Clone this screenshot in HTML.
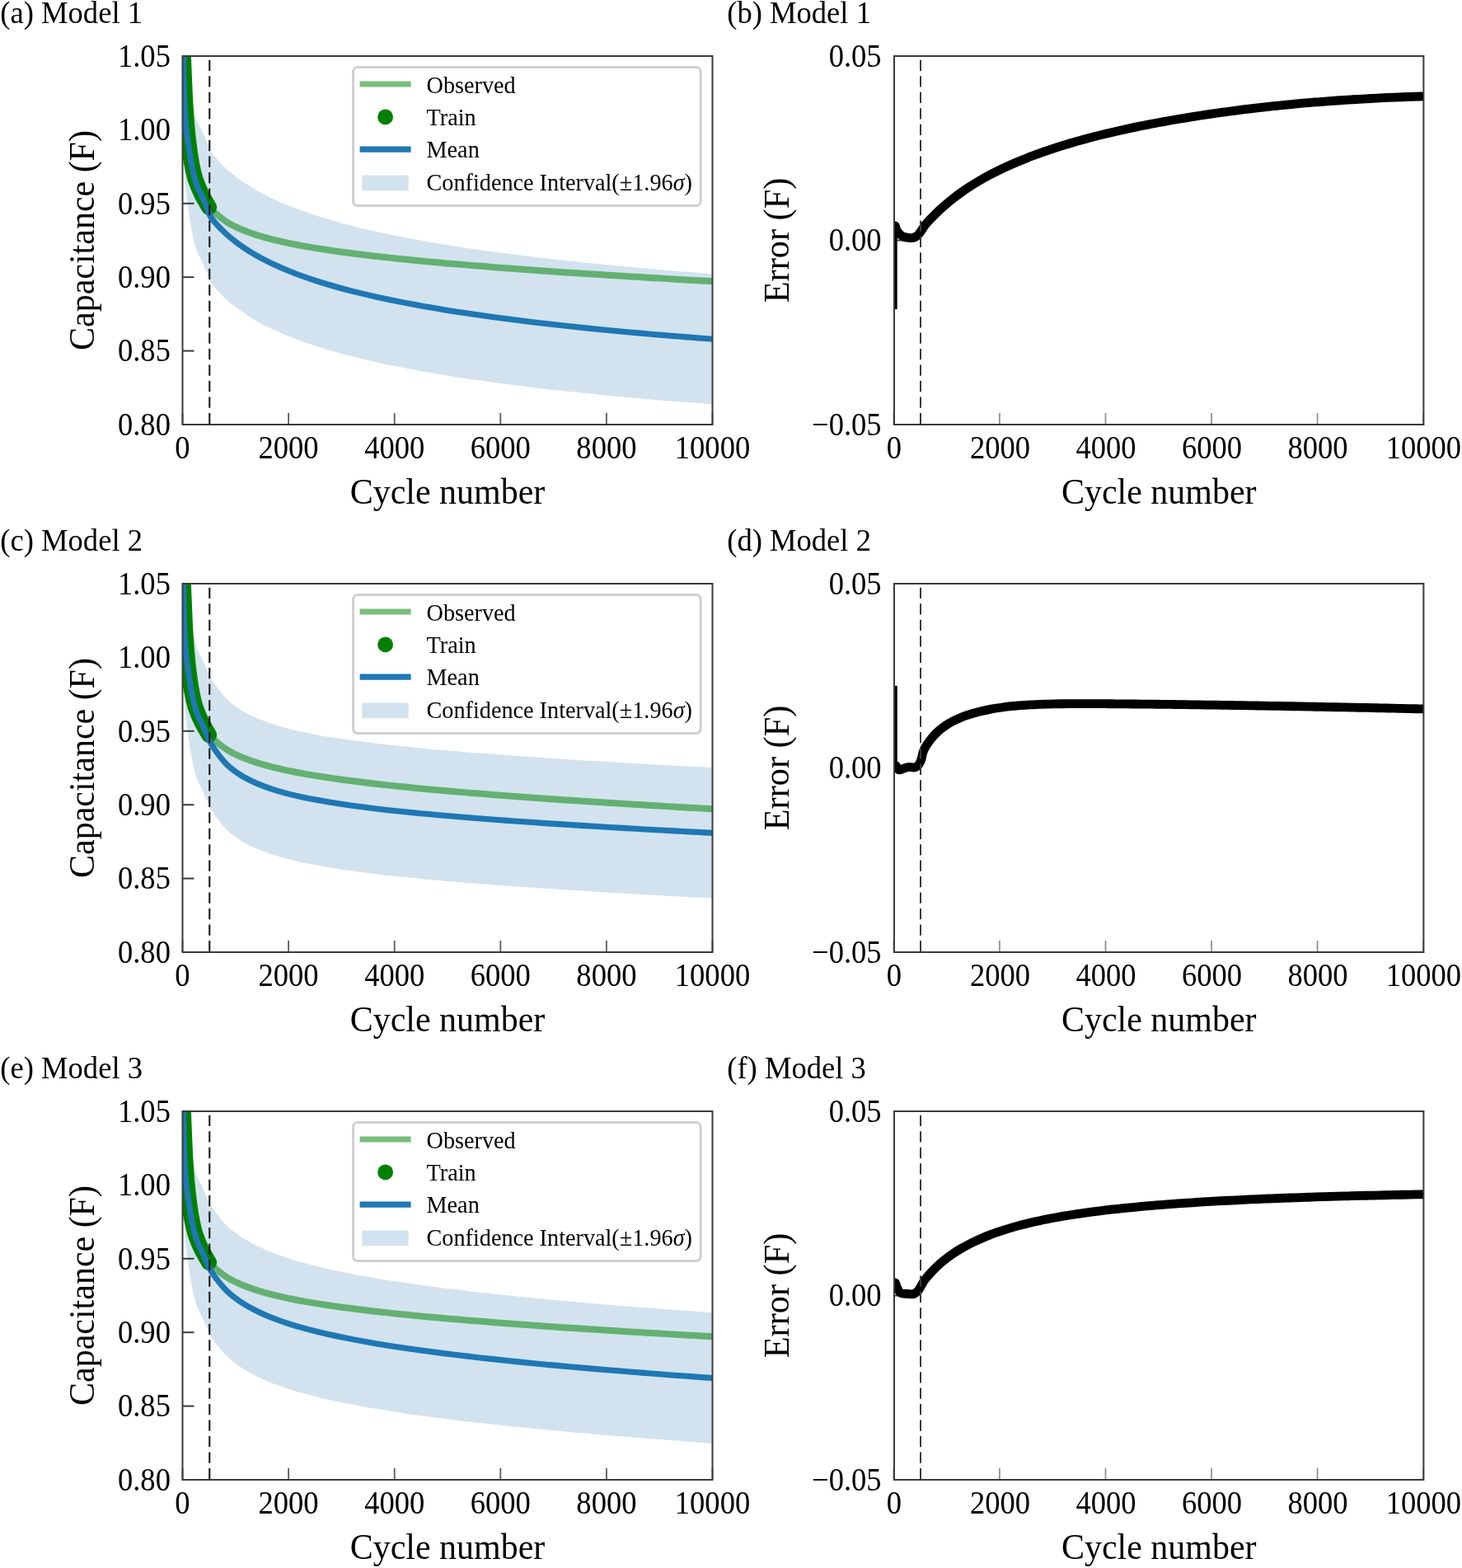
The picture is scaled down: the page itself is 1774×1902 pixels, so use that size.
<!DOCTYPE html>
<html><head><meta charset="utf-8"><title>Figure</title>
<style>html,body{margin:0;padding:0;background:#fff;} svg{display:block;}</style>
</head><body>
<svg xmlns="http://www.w3.org/2000/svg" width="1774" height="1902" viewBox="0 0 1774 1902" style="font-family:'Liberation Serif',serif;fill:#000">
<rect width="1774" height="1902" fill="#fff"/>
<clipPath id="cl0"><rect x="221.5" y="68.0" width="643.0" height="447.0"/></clipPath>
<clipPath id="cr0"><rect x="1085.0" y="68.0" width="642.4000000000001" height="447.0"/></clipPath>
<path clip-path="url(#cl0)" d="M221.80,-39.20C221.90,-34.53 222.15,-22.87 222.40,-11.20C222.65,0.47 223.00,19.85 223.30,30.80C223.60,41.75 223.74,46.62 224.20,54.50C224.66,62.38 225.16,70.22 226.05,78.10C226.94,85.98 228.47,94.68 229.55,101.80C230.63,108.92 231.01,113.52 232.55,120.80C234.09,128.08 236.64,139.02 238.80,145.50C240.96,151.98 243.32,154.88 245.50,159.70C247.68,164.52 250.07,170.17 251.90,174.40C253.73,178.63 253.14,180.45 256.50,185.11C259.86,189.76 266.89,197.28 272.09,202.34C277.29,207.40 282.48,211.51 287.68,215.47C292.88,219.43 298.07,222.83 303.27,226.09C308.47,229.34 313.66,232.23 318.86,234.99C324.06,237.74 329.25,240.25 334.45,242.64C339.65,245.03 344.84,247.24 350.04,249.35C355.24,251.46 360.43,253.43 365.63,255.32C370.82,257.21 376.02,258.98 381.22,260.69C386.41,262.39 391.61,264.01 396.81,265.56C402.00,267.12 407.20,268.60 412.40,270.03C417.59,271.46 422.79,272.82 427.99,274.14C433.18,275.46 438.38,276.72 443.58,277.95C448.77,279.18 453.97,280.35 459.17,281.50C464.36,282.64 469.56,283.74 474.76,284.82C479.95,285.89 485.15,286.92 490.35,287.93C495.54,288.94 500.74,289.91 505.94,290.86C511.13,291.81 516.33,292.74 521.53,293.63C526.72,294.53 531.92,295.41 537.12,296.26C542.31,297.11 547.51,297.94 552.71,298.75C557.90,299.56 563.10,300.35 568.29,301.12C573.49,301.89 578.69,302.64 583.88,303.38C589.08,304.12 594.28,304.84 599.47,305.54C604.67,306.25 609.87,306.93 615.06,307.61C620.26,308.28 625.46,308.94 630.65,309.59C635.85,310.23 641.05,310.87 646.24,311.49C651.44,312.11 656.64,312.72 661.83,313.32C667.03,313.91 672.23,314.50 677.42,315.07C682.62,315.65 687.82,316.21 693.01,316.77C698.21,317.32 703.41,317.87 708.60,318.40C713.80,318.94 719.00,319.46 724.19,319.98C729.39,320.50 734.59,321.00 739.78,321.51C744.98,322.01 750.18,322.50 755.37,322.98C760.57,323.46 765.76,323.94 770.96,324.41C776.16,324.88 781.35,325.34 786.55,325.79C791.75,326.25 796.94,326.69 802.14,327.14C807.34,327.58 812.53,328.01 817.73,328.44C822.93,328.87 828.12,329.29 833.32,329.70C838.52,330.12 843.71,330.53 848.91,330.93C854.11,331.34 861.90,331.93 864.50,332.13 L864.50,490.53C861.90,490.33 854.11,489.74 848.91,489.33C843.71,488.93 838.52,488.52 833.32,488.10C828.12,487.69 822.93,487.27 817.73,486.84C812.53,486.41 807.34,485.98 802.14,485.54C796.94,485.09 791.75,484.65 786.55,484.19C781.35,483.74 776.16,483.28 770.96,482.81C765.76,482.34 760.57,481.86 755.37,481.38C750.18,480.90 744.98,480.41 739.78,479.91C734.59,479.40 729.39,478.90 724.19,478.38C719.00,477.86 713.80,477.34 708.60,476.80C703.41,476.27 698.21,475.72 693.01,475.17C687.82,474.61 682.62,474.05 677.42,473.47C672.23,472.90 667.03,472.31 661.83,471.72C656.64,471.12 651.44,470.51 646.24,469.89C641.05,469.27 635.85,468.63 630.65,467.99C625.46,467.34 620.26,466.68 615.06,466.01C609.87,465.33 604.67,464.65 599.47,463.94C594.28,463.24 589.08,462.52 583.88,461.78C578.69,461.04 573.49,460.29 568.29,459.52C563.10,458.75 557.90,457.96 552.71,457.15C547.51,456.34 542.31,455.51 537.12,454.66C531.92,453.81 526.72,452.93 521.53,452.03C516.33,451.14 511.13,450.21 505.94,449.26C500.74,448.31 495.54,447.34 490.35,446.33C485.15,445.32 479.95,444.29 474.76,443.22C469.56,442.14 464.36,441.04 459.17,439.90C453.97,438.75 448.77,437.58 443.58,436.35C438.38,435.12 433.18,433.86 427.99,432.54C422.79,431.22 417.59,429.86 412.40,428.43C407.20,427.00 402.00,425.52 396.81,423.96C391.61,422.41 386.41,420.79 381.22,419.09C376.02,417.38 370.82,415.61 365.63,413.72C360.43,411.83 355.24,409.86 350.04,407.75C344.84,405.64 339.65,403.43 334.45,401.04C329.25,398.65 324.06,396.14 318.86,393.39C313.66,390.63 308.47,387.74 303.27,384.49C298.07,381.23 292.88,377.83 287.68,373.87C282.48,369.91 277.29,365.80 272.09,360.74C266.89,355.68 259.86,348.16 256.50,343.51C253.14,338.85 253.73,337.03 251.90,332.80C250.07,328.57 247.68,322.92 245.50,318.10C243.32,313.28 240.96,310.38 238.80,303.90C236.64,297.42 234.09,286.48 232.55,279.20C231.01,271.92 230.63,267.32 229.55,260.20C228.47,253.08 226.94,244.38 226.05,236.50C225.16,228.62 224.66,220.78 224.20,212.90C223.74,205.02 223.60,200.15 223.30,189.20C223.00,178.25 222.65,158.87 222.40,147.20C222.15,135.53 221.90,123.87 221.80,119.20 Z" fill="#d2e3ef"/>
<line x1="221.50" y1="515.0" x2="221.50" y2="501.0" stroke="#5a5a5a" stroke-width="1.8"/>
<line x1="350.10" y1="515.0" x2="350.10" y2="501.0" stroke="#5a5a5a" stroke-width="1.8"/>
<line x1="478.70" y1="515.0" x2="478.70" y2="501.0" stroke="#5a5a5a" stroke-width="1.8"/>
<line x1="607.30" y1="515.0" x2="607.30" y2="501.0" stroke="#5a5a5a" stroke-width="1.8"/>
<line x1="735.90" y1="515.0" x2="735.90" y2="501.0" stroke="#5a5a5a" stroke-width="1.8"/>
<line x1="864.50" y1="515.0" x2="864.50" y2="501.0" stroke="#5a5a5a" stroke-width="1.8"/>
<line x1="221.5" y1="515.00" x2="235.5" y2="515.00" stroke="#3a3a3a" stroke-width="2"/>
<line x1="221.5" y1="425.60" x2="235.5" y2="425.60" stroke="#3a3a3a" stroke-width="2"/>
<line x1="221.5" y1="336.20" x2="235.5" y2="336.20" stroke="#3a3a3a" stroke-width="2"/>
<line x1="221.5" y1="246.80" x2="235.5" y2="246.80" stroke="#3a3a3a" stroke-width="2"/>
<line x1="221.5" y1="157.40" x2="235.5" y2="157.40" stroke="#3a3a3a" stroke-width="2"/>
<line x1="221.5" y1="68.00" x2="235.5" y2="68.00" stroke="#3a3a3a" stroke-width="2"/>
<g clip-path="url(#cl0)">
<path d="M255.00,252.00C255.93,253.00 257.38,255.19 260.60,257.98C263.82,260.77 269.75,265.69 274.33,268.73C278.90,271.77 283.48,274.01 288.05,276.19C292.62,278.38 297.20,280.15 301.78,281.85C306.35,283.54 310.93,284.99 315.50,286.38C320.07,287.77 324.65,288.99 329.23,290.16C333.80,291.34 338.38,292.40 342.95,293.41C347.53,294.43 352.10,295.37 356.68,296.27C361.25,297.17 365.83,298.01 370.40,298.83C374.98,299.64 379.55,300.40 384.12,301.14C388.70,301.88 393.28,302.58 397.85,303.27C402.43,303.95 407.00,304.60 411.58,305.23C416.15,305.86 420.73,306.47 425.30,307.07C429.88,307.66 434.45,308.23 439.02,308.79C443.60,309.35 448.18,309.89 452.75,310.41C457.32,310.94 461.90,311.45 466.48,311.96C471.05,312.46 475.63,312.95 480.20,313.43C484.78,313.91 489.35,314.37 493.93,314.83C498.50,315.29 503.07,315.74 507.65,316.18C512.23,316.62 516.80,317.06 521.38,317.48C525.95,317.91 530.52,318.32 535.10,318.73C539.68,319.14 544.25,319.55 548.83,319.94C553.40,320.34 557.97,320.73 562.55,321.12C567.12,321.50 571.70,321.88 576.28,322.25C580.85,322.63 585.42,323.00 590.00,323.36C594.58,323.72 599.15,324.08 603.73,324.44C608.30,324.79 612.88,325.14 617.45,325.49C622.03,325.83 626.60,326.17 631.17,326.51C635.75,326.85 640.33,327.18 644.90,327.51C649.48,327.84 654.05,328.17 658.62,328.49C663.20,328.81 667.77,329.13 672.35,329.45C676.93,329.76 681.50,330.08 686.08,330.39C690.65,330.70 695.22,331.00 699.80,331.31C704.38,331.61 708.95,331.91 713.53,332.21C718.10,332.51 722.67,332.80 727.25,333.10C731.83,333.39 736.40,333.68 740.98,333.97C745.55,334.26 750.12,334.54 754.70,334.83C759.28,335.11 763.85,335.39 768.42,335.67C773.00,335.95 777.57,336.23 782.15,336.50C786.73,336.77 791.30,337.05 795.88,337.32C800.45,337.59 805.02,337.86 809.60,338.12C814.18,338.39 818.75,338.65 823.33,338.92C827.90,339.18 832.47,339.44 837.05,339.70C841.62,339.96 846.20,340.22 850.77,340.47C855.35,340.73 862.21,341.11 864.50,341.23" fill="none" stroke="rgba(0,128,0,0.52)" stroke-width="8"/>
<path d="M221.20,30.00C221.40,36.33 221.92,54.67 222.40,68.00C222.88,81.33 223.60,99.05 224.10,110.00C224.60,120.95 224.88,125.82 225.40,133.70C225.92,141.58 226.45,149.42 227.20,157.30C227.95,165.18 228.94,173.88 229.90,181.00C230.86,188.12 231.72,193.83 232.95,200.00C234.18,206.17 235.38,212.12 237.30,218.00C239.23,223.88 241.78,229.72 244.50,235.30C247.22,240.88 252.08,248.80 253.60,251.50" fill="none" stroke="#008000" stroke-width="19" stroke-linecap="round" stroke-linejoin="round"/>
<path d="M221.80,40.00C221.90,44.67 222.15,56.33 222.40,68.00C222.65,79.67 223.00,99.05 223.30,110.00C223.60,120.95 223.74,125.82 224.20,133.70C224.66,141.58 225.16,149.42 226.05,157.30C226.94,165.18 228.47,173.88 229.55,181.00C230.63,188.12 231.01,192.72 232.55,200.00C234.09,207.28 236.64,218.22 238.80,224.70C240.96,231.18 243.32,234.08 245.50,238.90C247.68,243.72 250.07,249.37 251.90,253.60C253.73,257.83 253.14,259.65 256.50,264.31C259.86,268.96 266.89,276.48 272.09,281.54C277.29,286.60 282.48,290.71 287.68,294.67C292.88,298.63 298.07,302.03 303.27,305.29C308.47,308.54 313.66,311.43 318.86,314.19C324.06,316.94 329.25,319.45 334.45,321.84C339.65,324.23 344.84,326.44 350.04,328.55C355.24,330.66 360.43,332.63 365.63,334.52C370.82,336.41 376.02,338.18 381.22,339.89C386.41,341.59 391.61,343.21 396.81,344.76C402.00,346.32 407.20,347.80 412.40,349.23C417.59,350.66 422.79,352.02 427.99,353.34C433.18,354.66 438.38,355.92 443.58,357.15C448.77,358.38 453.97,359.55 459.17,360.70C464.36,361.84 469.56,362.94 474.76,364.02C479.95,365.09 485.15,366.12 490.35,367.13C495.54,368.14 500.74,369.11 505.94,370.06C511.13,371.01 516.33,371.94 521.53,372.83C526.72,373.73 531.92,374.61 537.12,375.46C542.31,376.31 547.51,377.14 552.71,377.95C557.90,378.76 563.10,379.55 568.29,380.32C573.49,381.09 578.69,381.84 583.88,382.58C589.08,383.32 594.28,384.04 599.47,384.74C604.67,385.45 609.87,386.13 615.06,386.81C620.26,387.48 625.46,388.14 630.65,388.79C635.85,389.43 641.05,390.07 646.24,390.69C651.44,391.31 656.64,391.92 661.83,392.52C667.03,393.11 672.23,393.70 677.42,394.27C682.62,394.85 687.82,395.41 693.01,395.97C698.21,396.52 703.41,397.07 708.60,397.60C713.80,398.14 719.00,398.66 724.19,399.18C729.39,399.70 734.59,400.20 739.78,400.71C744.98,401.21 750.18,401.70 755.37,402.18C760.57,402.66 765.76,403.14 770.96,403.61C776.16,404.08 781.35,404.54 786.55,404.99C791.75,405.45 796.94,405.89 802.14,406.34C807.34,406.78 812.53,407.21 817.73,407.64C822.93,408.07 828.12,408.49 833.32,408.90C838.52,409.32 843.71,409.73 848.91,410.13C854.11,410.54 861.90,411.13 864.50,411.33" fill="none" stroke="#1f77b4" stroke-width="7.1"/>
<line x1="254.25" y1="68.0" x2="254.25" y2="515.0" stroke="#1a1a1a" stroke-width="2.1" stroke-dasharray="13.25 6.21" stroke-dashoffset="14.66"/>
</g>
<rect x="221.5" y="68.0" width="643.0" height="447.0" fill="none" stroke="#3a3a3a" stroke-width="2"/>
<rect x="428.5" y="81.6" width="421.7" height="168" rx="5.5" ry="5.5" fill="#fff" fill-opacity="0.8" stroke="#d0d0d0" stroke-width="3"/>
<line x1="436.6" y1="102" x2="498.6" y2="102" stroke="rgba(0,128,0,0.52)" stroke-width="6.8"/>
<circle cx="467.6" cy="141.9" r="9.4" fill="#008000"/>
<line x1="436.6" y1="181.1" x2="498.6" y2="181.1" stroke="#1f77b4" stroke-width="7.2"/>
<rect x="439.3" y="212.6" width="56.3" height="18.6" fill="#d2e3ef"/>
<text transform="translate(517.50,112.50) scale(0.957,1)" font-size="29.5" text-anchor="start">Observed</text>
<text transform="translate(517.50,151.50) scale(0.957,1)" font-size="29.5" text-anchor="start">Train</text>
<text transform="translate(517.50,190.60) scale(0.957,1)" font-size="29.5" text-anchor="start">Mean</text>
<text transform="translate(517.50,230.80) scale(0.957,1)" font-size="29.5" text-anchor="start">Confidence Interval(±1.96<tspan font-style="italic">σ</tspan>)</text>
<text transform="translate(221.50,555.70) scale(0.93,1)" font-size="39.3" text-anchor="middle">0</text>
<text transform="translate(350.10,555.70) scale(0.93,1)" font-size="39.3" text-anchor="middle">2000</text>
<text transform="translate(478.70,555.70) scale(0.93,1)" font-size="39.3" text-anchor="middle">4000</text>
<text transform="translate(607.30,555.70) scale(0.93,1)" font-size="39.3" text-anchor="middle">6000</text>
<text transform="translate(735.90,555.70) scale(0.93,1)" font-size="39.3" text-anchor="middle">8000</text>
<text transform="translate(864.50,555.70) scale(0.93,1)" font-size="39.3" text-anchor="middle">10000</text>
<text transform="translate(206.90,527.80) scale(0.93,1)" font-size="39.3" text-anchor="end">0.80</text>
<text transform="translate(206.90,438.40) scale(0.93,1)" font-size="39.3" text-anchor="end">0.85</text>
<text transform="translate(206.90,349.00) scale(0.93,1)" font-size="39.3" text-anchor="end">0.90</text>
<text transform="translate(206.90,259.60) scale(0.93,1)" font-size="39.3" text-anchor="end">0.95</text>
<text transform="translate(206.90,170.20) scale(0.93,1)" font-size="39.3" text-anchor="end">1.00</text>
<text transform="translate(206.90,80.80) scale(0.93,1)" font-size="39.3" text-anchor="end">1.05</text>
<text transform="translate(543.00,611.30) scale(0.937,1)" font-size="44.8" text-anchor="middle">Cycle number</text>
<text transform="translate(114.20,291.50) rotate(-90) scale(0.937,1)" font-size="44.8" text-anchor="middle">Capacitance (F)</text>
<text transform="translate(0.30,27.70) scale(0.958,1)" font-size="38.2" text-anchor="start">(a) Model 1</text>
<line x1="1084.40" y1="515.0" x2="1084.40" y2="501.0" stroke="#8a8a8a" stroke-width="1.7"/>
<line x1="1212.94" y1="515.0" x2="1212.94" y2="501.0" stroke="#8a8a8a" stroke-width="1.7"/>
<line x1="1341.48" y1="515.0" x2="1341.48" y2="501.0" stroke="#8a8a8a" stroke-width="1.7"/>
<line x1="1470.02" y1="515.0" x2="1470.02" y2="501.0" stroke="#8a8a8a" stroke-width="1.7"/>
<line x1="1598.56" y1="515.0" x2="1598.56" y2="501.0" stroke="#8a8a8a" stroke-width="1.7"/>
<line x1="1727.10" y1="515.0" x2="1727.10" y2="501.0" stroke="#8a8a8a" stroke-width="1.7"/>
<line x1="1085.0" y1="515.00" x2="1099.0" y2="515.00" stroke="#3a3a3a" stroke-width="2"/>
<line x1="1085.0" y1="291.50" x2="1099.0" y2="291.50" stroke="#3a3a3a" stroke-width="2"/>
<line x1="1085.0" y1="68.00" x2="1099.0" y2="68.00" stroke="#3a3a3a" stroke-width="2"/>
<g clip-path="url(#cr0)">
<line x1="1086.9" y1="276" x2="1086.9" y2="375.1" stroke="#000" stroke-width="3.6"/>
<path d="M1086.30,274.00C1086.67,275.00 1087.42,278.17 1088.50,280.00C1089.58,281.83 1091.38,283.78 1092.80,285.00C1094.22,286.22 1095.42,286.75 1097.00,287.30C1098.58,287.85 1100.70,288.10 1102.30,288.30C1103.90,288.50 1105.23,288.63 1106.60,288.50C1107.97,288.37 1109.27,288.08 1110.50,287.50C1111.73,286.92 1112.83,286.17 1114.00,285.00C1115.17,283.83 1116.03,282.56 1117.50,280.50C1118.97,278.44 1120.46,275.52 1122.80,272.63C1125.14,269.73 1128.64,266.15 1131.56,263.14C1134.48,260.13 1137.40,257.29 1140.32,254.56C1143.25,251.84 1146.17,249.26 1149.09,246.79C1152.01,244.31 1154.93,241.97 1157.85,239.71C1160.77,237.45 1163.69,235.30 1166.61,233.23C1169.53,231.16 1172.45,229.18 1175.37,227.27C1178.29,225.35 1181.22,223.52 1184.14,221.75C1187.06,219.97 1189.98,218.27 1192.90,216.62C1195.82,214.97 1198.74,213.38 1201.66,211.84C1204.58,210.29 1207.50,208.81 1210.42,207.36C1213.34,205.91 1216.26,204.52 1219.19,203.15C1222.11,201.79 1225.03,200.48 1227.95,199.19C1230.87,197.91 1233.79,196.66 1236.71,195.45C1239.63,194.24 1242.55,193.06 1245.47,191.91C1248.39,190.75 1251.31,189.64 1254.23,188.54C1257.16,187.45 1260.08,186.39 1263.00,185.35C1265.92,184.30 1268.84,183.29 1271.76,182.30C1274.68,181.31 1277.60,180.34 1280.52,179.39C1283.44,178.44 1286.36,177.52 1289.28,176.61C1292.20,175.71 1295.13,174.82 1298.05,173.96C1300.97,173.09 1303.89,172.24 1306.81,171.41C1309.73,170.58 1312.65,169.77 1315.57,168.97C1318.49,168.18 1321.41,167.40 1324.33,166.63C1327.25,165.87 1330.17,165.12 1333.10,164.39C1336.02,163.65 1338.94,162.93 1341.86,162.23C1344.78,161.52 1347.70,160.83 1350.62,160.15C1353.54,159.47 1356.46,158.81 1359.38,158.15C1362.30,157.50 1365.22,156.86 1368.14,156.23C1371.07,155.60 1373.99,154.98 1376.91,154.37C1379.83,153.76 1382.75,153.17 1385.67,152.58C1388.59,152.00 1391.51,151.42 1394.43,150.85C1397.35,150.29 1400.27,149.73 1403.19,149.19C1406.11,148.64 1409.04,148.10 1411.96,147.57C1414.88,147.05 1417.80,146.53 1420.72,146.02C1423.64,145.51 1426.56,145.00 1429.48,144.51C1432.40,144.02 1435.32,143.53 1438.24,143.05C1441.16,142.58 1444.09,142.11 1447.01,141.64C1449.93,141.18 1452.85,140.72 1455.77,140.28C1458.69,139.83 1461.61,139.39 1464.53,138.95C1467.45,138.52 1470.37,138.09 1473.29,137.67C1476.21,137.25 1479.13,136.84 1482.06,136.43C1484.98,136.03 1487.90,135.63 1490.82,135.23C1493.74,134.84 1496.66,134.46 1499.58,134.08C1502.50,133.70 1505.42,133.33 1508.34,132.97C1511.26,132.60 1514.18,132.24 1517.10,131.89C1520.03,131.54 1522.95,131.20 1525.87,130.86C1528.79,130.52 1531.71,130.19 1534.63,129.87C1537.55,129.54 1540.47,129.22 1543.39,128.91C1546.31,128.60 1549.23,128.30 1552.15,128.00C1555.07,127.70 1558.00,127.41 1560.92,127.12C1563.84,126.84 1566.76,126.56 1569.68,126.28C1572.60,126.01 1575.52,125.74 1578.44,125.48C1581.36,125.22 1584.28,124.96 1587.20,124.71C1590.12,124.46 1593.04,124.22 1595.97,123.98C1598.89,123.75 1601.81,123.51 1604.73,123.29C1607.65,123.06 1610.57,122.84 1613.49,122.63C1616.41,122.41 1619.33,122.20 1622.25,122.00C1625.17,121.79 1628.09,121.59 1631.01,121.40C1633.94,121.21 1636.86,121.02 1639.78,120.84C1642.70,120.66 1645.62,120.48 1648.54,120.31C1651.46,120.13 1654.38,119.97 1657.30,119.81C1660.22,119.64 1663.14,119.49 1666.06,119.33C1668.98,119.18 1671.91,119.04 1674.83,118.89C1677.75,118.75 1680.67,118.61 1683.59,118.48C1686.51,118.35 1689.43,118.22 1692.35,118.10C1695.27,117.97 1698.19,117.86 1701.11,117.74C1704.03,117.63 1706.95,117.52 1709.88,117.41C1712.80,117.31 1715.72,117.21 1718.64,117.11C1721.56,117.02 1725.94,116.88 1727.40,116.84" fill="none" stroke="#000" stroke-width="10.8" stroke-linejoin="round" stroke-linecap="round"/>
<line x1="1117" y1="68.0" x2="1117" y2="515.0" stroke="#3a3a3a" stroke-width="2" stroke-dasharray="13.25 6.21" stroke-dashoffset="14.66"/>
</g>
<rect x="1085.0" y="68.0" width="642.4000000000001" height="447.0" fill="none" stroke="#3a3a3a" stroke-width="2"/>
<text transform="translate(1085.00,555.70) scale(0.93,1)" font-size="39.3" text-anchor="middle">0</text>
<text transform="translate(1213.48,555.70) scale(0.93,1)" font-size="39.3" text-anchor="middle">2000</text>
<text transform="translate(1341.96,555.70) scale(0.93,1)" font-size="39.3" text-anchor="middle">4000</text>
<text transform="translate(1470.44,555.70) scale(0.93,1)" font-size="39.3" text-anchor="middle">6000</text>
<text transform="translate(1598.92,555.70) scale(0.93,1)" font-size="39.3" text-anchor="middle">8000</text>
<text transform="translate(1727.40,555.70) scale(0.93,1)" font-size="39.3" text-anchor="middle">10000</text>
<text transform="translate(1069.60,527.80) scale(0.93,1)" font-size="39.3" text-anchor="end">−0.05</text>
<text transform="translate(1069.60,304.30) scale(0.93,1)" font-size="39.3" text-anchor="end">0.00</text>
<text transform="translate(1069.60,80.80) scale(0.93,1)" font-size="39.3" text-anchor="end">0.05</text>
<text transform="translate(1406.20,611.30) scale(0.937,1)" font-size="44.8" text-anchor="middle">Cycle number</text>
<text transform="translate(956.80,291.50) rotate(-90) scale(0.945,1)" font-size="44.8" text-anchor="middle">Error (F)</text>
<text transform="translate(882.20,27.70) scale(0.958,1)" font-size="38.2" text-anchor="start">(b) Model 1</text>
<clipPath id="cl1"><rect x="221.5" y="708.0" width="643.0" height="447.0"/></clipPath>
<clipPath id="cr1"><rect x="1085.0" y="708.0" width="642.4000000000001" height="447.0"/></clipPath>
<path clip-path="url(#cl1)" d="M221.80,600.80C221.90,605.47 222.15,617.13 222.40,628.80C222.65,640.47 223.00,659.85 223.30,670.80C223.60,681.75 223.74,686.62 224.20,694.50C224.66,702.38 225.16,710.22 226.05,718.10C226.94,725.98 228.47,734.68 229.55,741.80C230.63,748.92 231.01,753.52 232.55,760.80C234.09,768.08 236.64,779.02 238.80,785.50C240.96,791.98 243.32,794.88 245.50,799.70C247.68,804.52 249.77,809.92 251.90,814.40C254.03,818.88 254.64,821.19 258.30,826.58C261.96,831.98 268.66,841.32 273.84,846.78C279.02,852.24 284.21,855.78 289.39,859.34C294.57,862.89 299.75,865.55 304.93,868.10C310.11,870.66 315.29,872.73 320.47,874.69C325.66,876.66 330.84,878.32 336.02,879.90C341.20,881.48 346.38,882.86 351.56,884.17C356.74,885.49 361.92,886.66 367.11,887.78C372.29,888.90 377.47,889.92 382.65,890.90C387.83,891.88 393.01,892.78 398.19,893.65C403.37,894.51 408.55,895.32 413.74,896.10C418.92,896.88 424.10,897.61 429.28,898.32C434.46,899.03 439.64,899.70 444.82,900.36C450.00,901.01 455.19,901.63 460.37,902.24C465.55,902.84 470.73,903.42 475.91,903.98C481.09,904.55 486.27,905.09 491.45,905.62C496.64,906.15 501.82,906.66 507.00,907.17C512.18,907.67 517.36,908.15 522.54,908.63C527.72,909.11 532.90,909.57 538.08,910.02C543.27,910.48 548.45,910.92 553.63,911.35C558.81,911.79 563.99,912.21 569.17,912.63C574.35,913.05 579.53,913.45 584.72,913.86C589.90,914.26 595.08,914.65 600.26,915.04C605.44,915.43 610.62,915.81 615.80,916.18C620.98,916.56 626.16,916.93 631.35,917.29C636.53,917.66 641.71,918.02 646.89,918.37C652.07,918.72 657.25,919.07 662.43,919.42C667.61,919.76 672.80,920.10 677.98,920.44C683.16,920.78 688.34,921.11 693.52,921.44C698.70,921.76 703.88,922.09 709.06,922.41C714.25,922.73 719.43,923.05 724.61,923.36C729.79,923.68 734.97,923.99 740.15,924.29C745.33,924.60 750.51,924.91 755.69,925.21C760.88,925.51 766.06,925.81 771.24,926.11C776.42,926.40 781.60,926.70 786.78,926.99C791.96,927.28 797.14,927.57 802.33,927.86C807.51,928.14 812.69,928.43 817.87,928.71C823.05,928.99 828.23,929.27 833.41,929.55C838.59,929.83 843.78,930.10 848.96,930.37C854.14,930.65 861.91,931.05 864.50,931.19 L864.50,1089.59C861.91,1089.45 854.14,1089.05 848.96,1088.77C843.78,1088.50 838.59,1088.23 833.41,1087.95C828.23,1087.67 823.05,1087.39 817.87,1087.11C812.69,1086.83 807.51,1086.54 802.33,1086.26C797.14,1085.97 791.96,1085.68 786.78,1085.39C781.60,1085.10 776.42,1084.80 771.24,1084.51C766.06,1084.21 760.88,1083.91 755.69,1083.61C750.51,1083.31 745.33,1083.00 740.15,1082.69C734.97,1082.39 729.79,1082.08 724.61,1081.76C719.43,1081.45 714.25,1081.13 709.06,1080.81C703.88,1080.49 698.70,1080.16 693.52,1079.84C688.34,1079.51 683.16,1079.18 677.98,1078.84C672.80,1078.50 667.61,1078.16 662.43,1077.82C657.25,1077.47 652.07,1077.12 646.89,1076.77C641.71,1076.42 636.53,1076.06 631.35,1075.69C626.16,1075.33 620.98,1074.96 615.80,1074.58C610.62,1074.21 605.44,1073.83 600.26,1073.44C595.08,1073.05 589.90,1072.66 584.72,1072.26C579.53,1071.85 574.35,1071.45 569.17,1071.03C563.99,1070.61 558.81,1070.19 553.63,1069.75C548.45,1069.32 543.27,1068.88 538.08,1068.42C532.90,1067.97 527.72,1067.51 522.54,1067.03C517.36,1066.55 512.18,1066.07 507.00,1065.57C501.82,1065.06 496.64,1064.55 491.45,1064.02C486.27,1063.49 481.09,1062.95 475.91,1062.38C470.73,1061.82 465.55,1061.24 460.37,1060.64C455.19,1060.03 450.00,1059.41 444.82,1058.76C439.64,1058.10 434.46,1057.43 429.28,1056.72C424.10,1056.01 418.92,1055.28 413.74,1054.50C408.55,1053.72 403.37,1052.91 398.19,1052.05C393.01,1051.18 387.83,1050.28 382.65,1049.30C377.47,1048.32 372.29,1047.30 367.11,1046.18C361.92,1045.06 356.74,1043.89 351.56,1042.57C346.38,1041.26 341.20,1039.88 336.02,1038.30C330.84,1036.72 325.66,1035.06 320.47,1033.09C315.29,1031.13 310.11,1029.06 304.93,1026.50C299.75,1023.95 294.57,1021.29 289.39,1017.74C284.21,1014.18 279.02,1010.64 273.84,1005.18C268.66,999.72 261.96,990.38 258.30,984.98C254.64,979.59 254.03,977.28 251.90,972.80C249.77,968.32 247.68,962.92 245.50,958.10C243.32,953.28 240.96,950.38 238.80,943.90C236.64,937.42 234.09,926.48 232.55,919.20C231.01,911.92 230.63,907.32 229.55,900.20C228.47,893.08 226.94,884.38 226.05,876.50C225.16,868.62 224.66,860.78 224.20,852.90C223.74,845.02 223.60,840.15 223.30,829.20C223.00,818.25 222.65,798.87 222.40,787.20C222.15,775.53 221.90,763.87 221.80,759.20 Z" fill="#d2e3ef"/>
<line x1="221.50" y1="1155.0" x2="221.50" y2="1141.0" stroke="#5a5a5a" stroke-width="1.8"/>
<line x1="350.10" y1="1155.0" x2="350.10" y2="1141.0" stroke="#5a5a5a" stroke-width="1.8"/>
<line x1="478.70" y1="1155.0" x2="478.70" y2="1141.0" stroke="#5a5a5a" stroke-width="1.8"/>
<line x1="607.30" y1="1155.0" x2="607.30" y2="1141.0" stroke="#5a5a5a" stroke-width="1.8"/>
<line x1="735.90" y1="1155.0" x2="735.90" y2="1141.0" stroke="#5a5a5a" stroke-width="1.8"/>
<line x1="864.50" y1="1155.0" x2="864.50" y2="1141.0" stroke="#5a5a5a" stroke-width="1.8"/>
<line x1="221.5" y1="1155.00" x2="235.5" y2="1155.00" stroke="#3a3a3a" stroke-width="2"/>
<line x1="221.5" y1="1065.60" x2="235.5" y2="1065.60" stroke="#3a3a3a" stroke-width="2"/>
<line x1="221.5" y1="976.20" x2="235.5" y2="976.20" stroke="#3a3a3a" stroke-width="2"/>
<line x1="221.5" y1="886.80" x2="235.5" y2="886.80" stroke="#3a3a3a" stroke-width="2"/>
<line x1="221.5" y1="797.40" x2="235.5" y2="797.40" stroke="#3a3a3a" stroke-width="2"/>
<line x1="221.5" y1="708.00" x2="235.5" y2="708.00" stroke="#3a3a3a" stroke-width="2"/>
<g clip-path="url(#cl1)">
<path d="M255.00,892.00C255.93,893.00 257.38,895.19 260.60,897.98C263.82,900.77 269.75,905.69 274.33,908.73C278.90,911.77 283.48,914.01 288.05,916.19C292.62,918.38 297.20,920.15 301.78,921.85C306.35,923.54 310.93,924.99 315.50,926.38C320.07,927.77 324.65,928.99 329.23,930.16C333.80,931.34 338.38,932.40 342.95,933.41C347.53,934.43 352.10,935.37 356.68,936.27C361.25,937.17 365.83,938.01 370.40,938.83C374.98,939.64 379.55,940.40 384.12,941.14C388.70,941.88 393.28,942.58 397.85,943.27C402.43,943.95 407.00,944.60 411.58,945.23C416.15,945.86 420.73,946.47 425.30,947.07C429.88,947.66 434.45,948.23 439.02,948.79C443.60,949.35 448.18,949.89 452.75,950.41C457.32,950.94 461.90,951.45 466.48,951.96C471.05,952.46 475.63,952.95 480.20,953.43C484.78,953.91 489.35,954.37 493.93,954.83C498.50,955.29 503.07,955.74 507.65,956.18C512.23,956.62 516.80,957.06 521.38,957.48C525.95,957.91 530.52,958.32 535.10,958.73C539.68,959.14 544.25,959.55 548.83,959.94C553.40,960.34 557.97,960.73 562.55,961.12C567.12,961.50 571.70,961.88 576.28,962.25C580.85,962.63 585.42,963.00 590.00,963.36C594.58,963.72 599.15,964.08 603.73,964.44C608.30,964.79 612.88,965.14 617.45,965.49C622.03,965.83 626.60,966.17 631.17,966.51C635.75,966.85 640.33,967.18 644.90,967.51C649.48,967.84 654.05,968.17 658.62,968.49C663.20,968.81 667.77,969.13 672.35,969.45C676.93,969.76 681.50,970.08 686.08,970.39C690.65,970.70 695.22,971.00 699.80,971.31C704.38,971.61 708.95,971.91 713.53,972.21C718.10,972.51 722.67,972.80 727.25,973.10C731.83,973.39 736.40,973.68 740.98,973.97C745.55,974.26 750.12,974.54 754.70,974.83C759.28,975.11 763.85,975.39 768.42,975.67C773.00,975.95 777.57,976.23 782.15,976.50C786.73,976.77 791.30,977.05 795.88,977.32C800.45,977.59 805.02,977.86 809.60,978.12C814.18,978.39 818.75,978.65 823.33,978.92C827.90,979.18 832.47,979.44 837.05,979.70C841.62,979.96 846.20,980.22 850.77,980.47C855.35,980.73 862.21,981.11 864.50,981.23" fill="none" stroke="rgba(0,128,0,0.52)" stroke-width="8"/>
<path d="M221.20,670.00C221.40,676.33 221.92,694.67 222.40,708.00C222.88,721.33 223.60,739.05 224.10,750.00C224.60,760.95 224.88,765.82 225.40,773.70C225.92,781.58 226.45,789.42 227.20,797.30C227.95,805.18 228.94,813.88 229.90,821.00C230.86,828.12 231.72,833.83 232.95,840.00C234.18,846.17 235.38,852.12 237.30,858.00C239.23,863.88 241.78,869.72 244.50,875.30C247.22,880.88 252.08,888.80 253.60,891.50" fill="none" stroke="#008000" stroke-width="19" stroke-linecap="round" stroke-linejoin="round"/>
<path d="M221.80,680.00C221.90,684.67 222.15,696.33 222.40,708.00C222.65,719.67 223.00,739.05 223.30,750.00C223.60,760.95 223.74,765.82 224.20,773.70C224.66,781.58 225.16,789.42 226.05,797.30C226.94,805.18 228.47,813.88 229.55,821.00C230.63,828.12 231.01,832.72 232.55,840.00C234.09,847.28 236.64,858.22 238.80,864.70C240.96,871.18 243.32,874.08 245.50,878.90C247.68,883.72 249.77,889.12 251.90,893.60C254.03,898.08 254.64,900.39 258.30,905.78C261.96,911.18 268.66,920.52 273.84,925.98C279.02,931.44 284.21,934.98 289.39,938.54C294.57,942.09 299.75,944.75 304.93,947.30C310.11,949.86 315.29,951.93 320.47,953.89C325.66,955.86 330.84,957.52 336.02,959.10C341.20,960.68 346.38,962.06 351.56,963.37C356.74,964.69 361.92,965.86 367.11,966.98C372.29,968.10 377.47,969.12 382.65,970.10C387.83,971.08 393.01,971.98 398.19,972.85C403.37,973.71 408.55,974.52 413.74,975.30C418.92,976.08 424.10,976.81 429.28,977.52C434.46,978.23 439.64,978.90 444.82,979.56C450.00,980.21 455.19,980.83 460.37,981.44C465.55,982.04 470.73,982.62 475.91,983.18C481.09,983.75 486.27,984.29 491.45,984.82C496.64,985.35 501.82,985.86 507.00,986.37C512.18,986.87 517.36,987.35 522.54,987.83C527.72,988.31 532.90,988.77 538.08,989.22C543.27,989.68 548.45,990.12 553.63,990.55C558.81,990.99 563.99,991.41 569.17,991.83C574.35,992.25 579.53,992.65 584.72,993.06C589.90,993.46 595.08,993.85 600.26,994.24C605.44,994.63 610.62,995.01 615.80,995.38C620.98,995.76 626.16,996.13 631.35,996.49C636.53,996.86 641.71,997.22 646.89,997.57C652.07,997.92 657.25,998.27 662.43,998.62C667.61,998.96 672.80,999.30 677.98,999.64C683.16,999.98 688.34,1000.31 693.52,1000.64C698.70,1000.96 703.88,1001.29 709.06,1001.61C714.25,1001.93 719.43,1002.25 724.61,1002.56C729.79,1002.88 734.97,1003.19 740.15,1003.49C745.33,1003.80 750.51,1004.11 755.69,1004.41C760.88,1004.71 766.06,1005.01 771.24,1005.31C776.42,1005.60 781.60,1005.90 786.78,1006.19C791.96,1006.48 797.14,1006.77 802.33,1007.06C807.51,1007.34 812.69,1007.63 817.87,1007.91C823.05,1008.19 828.23,1008.47 833.41,1008.75C838.59,1009.03 843.78,1009.30 848.96,1009.57C854.14,1009.85 861.91,1010.25 864.50,1010.39" fill="none" stroke="#1f77b4" stroke-width="7.1"/>
<line x1="254.25" y1="708.0" x2="254.25" y2="1155.0" stroke="#1a1a1a" stroke-width="2.1" stroke-dasharray="13.25 6.21" stroke-dashoffset="14.66"/>
</g>
<rect x="221.5" y="708.0" width="643.0" height="447.0" fill="none" stroke="#3a3a3a" stroke-width="2"/>
<rect x="428.5" y="721.6" width="421.7" height="168" rx="5.5" ry="5.5" fill="#fff" fill-opacity="0.8" stroke="#d0d0d0" stroke-width="3"/>
<line x1="436.6" y1="742" x2="498.6" y2="742" stroke="rgba(0,128,0,0.52)" stroke-width="6.8"/>
<circle cx="467.6" cy="781.9" r="9.4" fill="#008000"/>
<line x1="436.6" y1="821.1" x2="498.6" y2="821.1" stroke="#1f77b4" stroke-width="7.2"/>
<rect x="439.3" y="852.6" width="56.3" height="18.6" fill="#d2e3ef"/>
<text transform="translate(517.50,752.50) scale(0.957,1)" font-size="29.5" text-anchor="start">Observed</text>
<text transform="translate(517.50,791.50) scale(0.957,1)" font-size="29.5" text-anchor="start">Train</text>
<text transform="translate(517.50,830.60) scale(0.957,1)" font-size="29.5" text-anchor="start">Mean</text>
<text transform="translate(517.50,870.80) scale(0.957,1)" font-size="29.5" text-anchor="start">Confidence Interval(±1.96<tspan font-style="italic">σ</tspan>)</text>
<text transform="translate(221.50,1195.70) scale(0.93,1)" font-size="39.3" text-anchor="middle">0</text>
<text transform="translate(350.10,1195.70) scale(0.93,1)" font-size="39.3" text-anchor="middle">2000</text>
<text transform="translate(478.70,1195.70) scale(0.93,1)" font-size="39.3" text-anchor="middle">4000</text>
<text transform="translate(607.30,1195.70) scale(0.93,1)" font-size="39.3" text-anchor="middle">6000</text>
<text transform="translate(735.90,1195.70) scale(0.93,1)" font-size="39.3" text-anchor="middle">8000</text>
<text transform="translate(864.50,1195.70) scale(0.93,1)" font-size="39.3" text-anchor="middle">10000</text>
<text transform="translate(206.90,1167.80) scale(0.93,1)" font-size="39.3" text-anchor="end">0.80</text>
<text transform="translate(206.90,1078.40) scale(0.93,1)" font-size="39.3" text-anchor="end">0.85</text>
<text transform="translate(206.90,989.00) scale(0.93,1)" font-size="39.3" text-anchor="end">0.90</text>
<text transform="translate(206.90,899.60) scale(0.93,1)" font-size="39.3" text-anchor="end">0.95</text>
<text transform="translate(206.90,810.20) scale(0.93,1)" font-size="39.3" text-anchor="end">1.00</text>
<text transform="translate(206.90,720.80) scale(0.93,1)" font-size="39.3" text-anchor="end">1.05</text>
<text transform="translate(543.00,1251.30) scale(0.937,1)" font-size="44.8" text-anchor="middle">Cycle number</text>
<text transform="translate(114.20,931.50) rotate(-90) scale(0.937,1)" font-size="44.8" text-anchor="middle">Capacitance (F)</text>
<text transform="translate(0.30,667.70) scale(0.958,1)" font-size="38.2" text-anchor="start">(c) Model 2</text>
<line x1="1084.40" y1="1155.0" x2="1084.40" y2="1141.0" stroke="#8a8a8a" stroke-width="1.7"/>
<line x1="1212.94" y1="1155.0" x2="1212.94" y2="1141.0" stroke="#8a8a8a" stroke-width="1.7"/>
<line x1="1341.48" y1="1155.0" x2="1341.48" y2="1141.0" stroke="#8a8a8a" stroke-width="1.7"/>
<line x1="1470.02" y1="1155.0" x2="1470.02" y2="1141.0" stroke="#8a8a8a" stroke-width="1.7"/>
<line x1="1598.56" y1="1155.0" x2="1598.56" y2="1141.0" stroke="#8a8a8a" stroke-width="1.7"/>
<line x1="1727.10" y1="1155.0" x2="1727.10" y2="1141.0" stroke="#8a8a8a" stroke-width="1.7"/>
<line x1="1085.0" y1="1155.00" x2="1099.0" y2="1155.00" stroke="#3a3a3a" stroke-width="2"/>
<line x1="1085.0" y1="931.50" x2="1099.0" y2="931.50" stroke="#3a3a3a" stroke-width="2"/>
<line x1="1085.0" y1="708.00" x2="1099.0" y2="708.00" stroke="#3a3a3a" stroke-width="2"/>
<g clip-path="url(#cr1)">
<line x1="1086.9" y1="831.8" x2="1086.9" y2="928" stroke="#000" stroke-width="3.8"/>
<path d="M1087.40,929.00C1087.75,929.67 1088.75,932.18 1089.50,933.00C1090.25,933.82 1090.57,934.10 1091.90,933.90C1093.23,933.70 1095.62,932.40 1097.50,931.80C1099.38,931.20 1101.32,930.43 1103.20,930.30C1105.08,930.17 1107.17,931.13 1108.80,931.00C1110.43,930.87 1111.88,930.25 1113.00,929.50C1114.12,928.75 1114.70,927.83 1115.50,926.50C1116.30,925.17 1116.85,924.35 1117.80,921.50C1118.75,918.65 1119.17,913.66 1121.20,909.41C1123.23,905.16 1127.06,899.78 1129.99,896.01C1132.91,892.23 1135.84,889.42 1138.77,886.75C1141.70,884.08 1144.63,881.97 1147.56,879.98C1150.49,878.00 1153.41,876.36 1156.34,874.83C1159.27,873.29 1162.20,871.99 1165.13,870.77C1168.06,869.54 1170.98,868.48 1173.91,867.48C1176.84,866.48 1179.77,865.59 1182.70,864.76C1185.63,863.92 1188.56,863.18 1191.48,862.49C1194.41,861.80 1197.34,861.18 1200.27,860.60C1203.20,860.03 1206.13,859.52 1209.06,859.04C1211.98,858.57 1214.91,858.15 1217.84,857.76C1220.77,857.38 1223.70,857.04 1226.63,856.73C1229.55,856.42 1232.48,856.15 1235.41,855.91C1238.34,855.66 1241.27,855.45 1244.20,855.27C1247.13,855.08 1250.05,854.91 1252.98,854.77C1255.91,854.62 1258.84,854.50 1261.77,854.39C1264.70,854.28 1267.63,854.19 1270.55,854.11C1273.48,854.03 1276.41,853.96 1279.34,853.90C1282.27,853.85 1285.20,853.80 1288.12,853.76C1291.05,853.72 1293.98,853.69 1296.91,853.67C1299.84,853.65 1302.77,853.63 1305.70,853.62C1308.62,853.61 1311.55,853.61 1314.48,853.61C1317.41,853.61 1320.34,853.61 1323.27,853.62C1326.20,853.62 1329.12,853.64 1332.05,853.65C1334.98,853.66 1337.91,853.68 1340.84,853.70C1343.77,853.72 1346.69,853.74 1349.62,853.76C1352.55,853.78 1355.48,853.80 1358.41,853.83C1361.34,853.85 1364.27,853.88 1367.19,853.90C1370.12,853.93 1373.05,853.96 1375.98,853.99C1378.91,854.01 1381.84,854.04 1384.77,854.07C1387.69,854.10 1390.62,854.13 1393.55,854.16C1396.48,854.19 1399.41,854.23 1402.34,854.26C1405.26,854.29 1408.19,854.32 1411.12,854.36C1414.05,854.39 1416.98,854.42 1419.91,854.46C1422.84,854.49 1425.76,854.53 1428.69,854.57C1431.62,854.60 1434.55,854.64 1437.48,854.68C1440.41,854.71 1443.34,854.75 1446.26,854.79C1449.19,854.83 1452.12,854.87 1455.05,854.91C1457.98,854.95 1460.91,854.99 1463.83,855.03C1466.76,855.07 1469.69,855.12 1472.62,855.16C1475.55,855.20 1478.48,855.24 1481.41,855.29C1484.33,855.33 1487.26,855.37 1490.19,855.42C1493.12,855.46 1496.05,855.51 1498.98,855.56C1501.91,855.60 1504.83,855.65 1507.76,855.69C1510.69,855.74 1513.62,855.79 1516.55,855.84C1519.48,855.88 1522.40,855.93 1525.33,855.98C1528.26,856.03 1531.19,856.08 1534.12,856.13C1537.05,856.18 1539.98,856.23 1542.90,856.28C1545.83,856.33 1548.76,856.38 1551.69,856.43C1554.62,856.49 1557.55,856.54 1560.48,856.59C1563.40,856.64 1566.33,856.70 1569.26,856.75C1572.19,856.80 1575.12,856.86 1578.05,856.91C1580.97,856.96 1583.90,857.02 1586.83,857.07C1589.76,857.13 1592.69,857.18 1595.62,857.24C1598.55,857.29 1601.47,857.35 1604.40,857.41C1607.33,857.46 1610.26,857.52 1613.19,857.58C1616.12,857.63 1619.05,857.69 1621.97,857.75C1624.90,857.81 1627.83,857.86 1630.76,857.92C1633.69,857.98 1636.62,858.04 1639.54,858.10C1642.47,858.16 1645.40,858.22 1648.33,858.28C1651.26,858.33 1654.19,858.39 1657.12,858.45C1660.04,858.51 1662.97,858.58 1665.90,858.64C1668.83,858.70 1671.76,858.76 1674.69,858.82C1677.62,858.88 1680.54,858.94 1683.47,859.00C1686.40,859.06 1689.33,859.13 1692.26,859.19C1695.19,859.25 1698.11,859.31 1701.04,859.38C1703.97,859.44 1706.90,859.50 1709.83,859.57C1712.76,859.63 1715.69,859.69 1718.61,859.76C1721.54,859.82 1725.94,859.92 1727.40,859.95" fill="none" stroke="#000" stroke-width="10.8" stroke-linejoin="round" stroke-linecap="round"/>
<line x1="1117" y1="708.0" x2="1117" y2="1155.0" stroke="#3a3a3a" stroke-width="2" stroke-dasharray="13.25 6.21" stroke-dashoffset="14.66"/>
</g>
<rect x="1085.0" y="708.0" width="642.4000000000001" height="447.0" fill="none" stroke="#3a3a3a" stroke-width="2"/>
<text transform="translate(1085.00,1195.70) scale(0.93,1)" font-size="39.3" text-anchor="middle">0</text>
<text transform="translate(1213.48,1195.70) scale(0.93,1)" font-size="39.3" text-anchor="middle">2000</text>
<text transform="translate(1341.96,1195.70) scale(0.93,1)" font-size="39.3" text-anchor="middle">4000</text>
<text transform="translate(1470.44,1195.70) scale(0.93,1)" font-size="39.3" text-anchor="middle">6000</text>
<text transform="translate(1598.92,1195.70) scale(0.93,1)" font-size="39.3" text-anchor="middle">8000</text>
<text transform="translate(1727.40,1195.70) scale(0.93,1)" font-size="39.3" text-anchor="middle">10000</text>
<text transform="translate(1069.60,1167.80) scale(0.93,1)" font-size="39.3" text-anchor="end">−0.05</text>
<text transform="translate(1069.60,944.30) scale(0.93,1)" font-size="39.3" text-anchor="end">0.00</text>
<text transform="translate(1069.60,720.80) scale(0.93,1)" font-size="39.3" text-anchor="end">0.05</text>
<text transform="translate(1406.20,1251.30) scale(0.937,1)" font-size="44.8" text-anchor="middle">Cycle number</text>
<text transform="translate(956.80,931.50) rotate(-90) scale(0.945,1)" font-size="44.8" text-anchor="middle">Error (F)</text>
<text transform="translate(882.20,667.70) scale(0.958,1)" font-size="38.2" text-anchor="start">(d) Model 2</text>
<clipPath id="cl2"><rect x="221.5" y="1348.0" width="643.0" height="447.0"/></clipPath>
<clipPath id="cr2"><rect x="1085.0" y="1348.0" width="642.4000000000001" height="447.0"/></clipPath>
<path clip-path="url(#cl2)" d="M221.80,1240.80C221.90,1245.47 222.15,1257.13 222.40,1268.80C222.65,1280.47 223.00,1299.85 223.30,1310.80C223.60,1321.75 223.74,1326.62 224.20,1334.50C224.66,1342.38 225.16,1350.22 226.05,1358.10C226.94,1365.98 228.47,1374.68 229.55,1381.80C230.63,1388.92 231.01,1393.52 232.55,1400.80C234.09,1408.08 236.64,1419.02 238.80,1425.50C240.96,1431.98 243.32,1434.88 245.50,1439.70C247.68,1444.52 249.77,1450.02 251.90,1454.40C254.03,1458.78 254.64,1460.85 258.30,1465.99C261.96,1471.12 268.66,1479.88 273.84,1485.23C279.02,1490.59 284.21,1494.38 289.39,1498.12C294.57,1501.87 299.75,1504.84 304.93,1507.69C310.11,1510.55 315.29,1512.96 320.47,1515.26C325.66,1517.56 330.84,1519.58 336.02,1521.51C341.20,1523.43 346.38,1525.16 351.56,1526.82C356.74,1528.48 361.92,1530.00 367.11,1531.45C372.29,1532.91 377.47,1534.26 382.65,1535.56C387.83,1536.86 393.01,1538.07 398.19,1539.25C403.37,1540.42 408.55,1541.53 413.74,1542.61C418.92,1543.68 424.10,1544.70 429.28,1545.69C434.46,1546.68 439.64,1547.63 444.82,1548.55C450.00,1549.47 455.19,1550.35 460.37,1551.21C465.55,1552.07 470.73,1552.90 475.91,1553.70C481.09,1554.51 486.27,1555.29 491.45,1556.06C496.64,1556.82 501.82,1557.56 507.00,1558.28C512.18,1559.00 517.36,1559.71 522.54,1560.40C527.72,1561.08 532.90,1561.75 538.08,1562.41C543.27,1563.07 548.45,1563.71 553.63,1564.34C558.81,1564.97 563.99,1565.58 569.17,1566.18C574.35,1566.79 579.53,1567.38 584.72,1567.96C589.90,1568.54 595.08,1569.11 600.26,1569.67C605.44,1570.23 610.62,1570.78 615.80,1571.32C620.98,1571.86 626.16,1572.39 631.35,1572.91C636.53,1573.44 641.71,1573.95 646.89,1574.46C652.07,1574.97 657.25,1575.47 662.43,1575.96C667.61,1576.45 672.80,1576.93 677.98,1577.41C683.16,1577.89 688.34,1578.36 693.52,1578.83C698.70,1579.29 703.88,1579.75 709.06,1580.20C714.25,1580.66 719.43,1581.10 724.61,1581.55C729.79,1581.99 734.97,1582.42 740.15,1582.86C745.33,1583.29 750.51,1583.71 755.69,1584.13C760.88,1584.56 766.06,1584.97 771.24,1585.38C776.42,1585.80 781.60,1586.20 786.78,1586.61C791.96,1587.01 797.14,1587.41 802.33,1587.80C807.51,1588.20 812.69,1588.59 817.87,1588.97C823.05,1589.36 828.23,1589.74 833.41,1590.12C838.59,1590.50 843.78,1590.88 848.96,1591.25C854.14,1591.62 861.91,1592.17 864.50,1592.36 L864.50,1750.76C861.91,1750.57 854.14,1750.02 848.96,1749.65C843.78,1749.28 838.59,1748.90 833.41,1748.52C828.23,1748.14 823.05,1747.76 817.87,1747.37C812.69,1746.99 807.51,1746.60 802.33,1746.20C797.14,1745.81 791.96,1745.41 786.78,1745.01C781.60,1744.60 776.42,1744.20 771.24,1743.78C766.06,1743.37 760.88,1742.96 755.69,1742.53C750.51,1742.11 745.33,1741.69 740.15,1741.26C734.97,1740.82 729.79,1740.39 724.61,1739.95C719.43,1739.50 714.25,1739.06 709.06,1738.60C703.88,1738.15 698.70,1737.69 693.52,1737.23C688.34,1736.76 683.16,1736.29 677.98,1735.81C672.80,1735.33 667.61,1734.85 662.43,1734.36C657.25,1733.87 652.07,1733.37 646.89,1732.86C641.71,1732.35 636.53,1731.84 631.35,1731.31C626.16,1730.79 620.98,1730.26 615.80,1729.72C610.62,1729.18 605.44,1728.63 600.26,1728.07C595.08,1727.51 589.90,1726.94 584.72,1726.36C579.53,1725.78 574.35,1725.19 569.17,1724.58C563.99,1723.98 558.81,1723.37 553.63,1722.74C548.45,1722.11 543.27,1721.47 538.08,1720.81C532.90,1720.15 527.72,1719.48 522.54,1718.80C517.36,1718.11 512.18,1717.40 507.00,1716.68C501.82,1715.96 496.64,1715.22 491.45,1714.46C486.27,1713.69 481.09,1712.91 475.91,1712.10C470.73,1711.30 465.55,1710.47 460.37,1709.61C455.19,1708.75 450.00,1707.87 444.82,1706.95C439.64,1706.03 434.46,1705.08 429.28,1704.09C424.10,1703.10 418.92,1702.08 413.74,1701.01C408.55,1699.93 403.37,1698.82 398.19,1697.65C393.01,1696.47 387.83,1695.26 382.65,1693.96C377.47,1692.66 372.29,1691.31 367.11,1689.85C361.92,1688.40 356.74,1686.88 351.56,1685.22C346.38,1683.56 341.20,1681.83 336.02,1679.91C330.84,1677.98 325.66,1675.96 320.47,1673.66C315.29,1671.36 310.11,1668.95 304.93,1666.09C299.75,1663.24 294.57,1660.27 289.39,1656.52C284.21,1652.78 279.02,1648.99 273.84,1643.63C268.66,1638.28 261.96,1629.52 258.30,1624.39C254.64,1619.25 254.03,1617.18 251.90,1612.80C249.77,1608.42 247.68,1602.92 245.50,1598.10C243.32,1593.28 240.96,1590.38 238.80,1583.90C236.64,1577.42 234.09,1566.48 232.55,1559.20C231.01,1551.92 230.63,1547.32 229.55,1540.20C228.47,1533.08 226.94,1524.38 226.05,1516.50C225.16,1508.62 224.66,1500.78 224.20,1492.90C223.74,1485.02 223.60,1480.15 223.30,1469.20C223.00,1458.25 222.65,1438.87 222.40,1427.20C222.15,1415.53 221.90,1403.87 221.80,1399.20 Z" fill="#d2e3ef"/>
<line x1="221.50" y1="1795.0" x2="221.50" y2="1781.0" stroke="#5a5a5a" stroke-width="1.8"/>
<line x1="350.10" y1="1795.0" x2="350.10" y2="1781.0" stroke="#5a5a5a" stroke-width="1.8"/>
<line x1="478.70" y1="1795.0" x2="478.70" y2="1781.0" stroke="#5a5a5a" stroke-width="1.8"/>
<line x1="607.30" y1="1795.0" x2="607.30" y2="1781.0" stroke="#5a5a5a" stroke-width="1.8"/>
<line x1="735.90" y1="1795.0" x2="735.90" y2="1781.0" stroke="#5a5a5a" stroke-width="1.8"/>
<line x1="864.50" y1="1795.0" x2="864.50" y2="1781.0" stroke="#5a5a5a" stroke-width="1.8"/>
<line x1="221.5" y1="1795.00" x2="235.5" y2="1795.00" stroke="#3a3a3a" stroke-width="2"/>
<line x1="221.5" y1="1705.60" x2="235.5" y2="1705.60" stroke="#3a3a3a" stroke-width="2"/>
<line x1="221.5" y1="1616.20" x2="235.5" y2="1616.20" stroke="#3a3a3a" stroke-width="2"/>
<line x1="221.5" y1="1526.80" x2="235.5" y2="1526.80" stroke="#3a3a3a" stroke-width="2"/>
<line x1="221.5" y1="1437.40" x2="235.5" y2="1437.40" stroke="#3a3a3a" stroke-width="2"/>
<line x1="221.5" y1="1348.00" x2="235.5" y2="1348.00" stroke="#3a3a3a" stroke-width="2"/>
<g clip-path="url(#cl2)">
<path d="M255.00,1532.00C255.93,1533.00 257.38,1535.19 260.60,1537.98C263.82,1540.77 269.75,1545.69 274.33,1548.73C278.90,1551.77 283.48,1554.01 288.05,1556.19C292.62,1558.38 297.20,1560.15 301.78,1561.85C306.35,1563.54 310.93,1564.99 315.50,1566.38C320.07,1567.77 324.65,1568.99 329.23,1570.16C333.80,1571.34 338.38,1572.40 342.95,1573.41C347.53,1574.43 352.10,1575.37 356.68,1576.27C361.25,1577.17 365.83,1578.01 370.40,1578.83C374.98,1579.64 379.55,1580.40 384.12,1581.14C388.70,1581.88 393.28,1582.58 397.85,1583.27C402.43,1583.95 407.00,1584.60 411.58,1585.23C416.15,1585.86 420.73,1586.47 425.30,1587.07C429.88,1587.66 434.45,1588.23 439.02,1588.79C443.60,1589.35 448.18,1589.89 452.75,1590.41C457.32,1590.94 461.90,1591.45 466.48,1591.96C471.05,1592.46 475.63,1592.95 480.20,1593.43C484.78,1593.91 489.35,1594.37 493.93,1594.83C498.50,1595.29 503.07,1595.74 507.65,1596.18C512.23,1596.62 516.80,1597.06 521.38,1597.48C525.95,1597.91 530.52,1598.32 535.10,1598.73C539.68,1599.14 544.25,1599.55 548.83,1599.94C553.40,1600.34 557.97,1600.73 562.55,1601.12C567.12,1601.50 571.70,1601.88 576.28,1602.25C580.85,1602.63 585.42,1603.00 590.00,1603.36C594.58,1603.72 599.15,1604.08 603.73,1604.44C608.30,1604.79 612.88,1605.14 617.45,1605.49C622.03,1605.83 626.60,1606.17 631.17,1606.51C635.75,1606.85 640.33,1607.18 644.90,1607.51C649.48,1607.84 654.05,1608.17 658.62,1608.49C663.20,1608.81 667.77,1609.13 672.35,1609.45C676.93,1609.76 681.50,1610.08 686.08,1610.39C690.65,1610.70 695.22,1611.00 699.80,1611.31C704.38,1611.61 708.95,1611.91 713.53,1612.21C718.10,1612.51 722.67,1612.80 727.25,1613.10C731.83,1613.39 736.40,1613.68 740.98,1613.97C745.55,1614.26 750.12,1614.54 754.70,1614.83C759.28,1615.11 763.85,1615.39 768.42,1615.67C773.00,1615.95 777.57,1616.23 782.15,1616.50C786.73,1616.77 791.30,1617.05 795.88,1617.32C800.45,1617.59 805.02,1617.86 809.60,1618.12C814.18,1618.39 818.75,1618.65 823.33,1618.92C827.90,1619.18 832.47,1619.44 837.05,1619.70C841.62,1619.96 846.20,1620.22 850.77,1620.47C855.35,1620.73 862.21,1621.11 864.50,1621.23" fill="none" stroke="rgba(0,128,0,0.52)" stroke-width="8"/>
<path d="M221.20,1310.00C221.40,1316.33 221.92,1334.67 222.40,1348.00C222.88,1361.33 223.60,1379.05 224.10,1390.00C224.60,1400.95 224.88,1405.82 225.40,1413.70C225.92,1421.58 226.45,1429.42 227.20,1437.30C227.95,1445.18 228.94,1453.88 229.90,1461.00C230.86,1468.12 231.72,1473.83 232.95,1480.00C234.18,1486.17 235.38,1492.12 237.30,1498.00C239.23,1503.88 241.78,1509.72 244.50,1515.30C247.22,1520.88 252.08,1528.80 253.60,1531.50" fill="none" stroke="#008000" stroke-width="19" stroke-linecap="round" stroke-linejoin="round"/>
<path d="M221.80,1320.00C221.90,1324.67 222.15,1336.33 222.40,1348.00C222.65,1359.67 223.00,1379.05 223.30,1390.00C223.60,1400.95 223.74,1405.82 224.20,1413.70C224.66,1421.58 225.16,1429.42 226.05,1437.30C226.94,1445.18 228.47,1453.88 229.55,1461.00C230.63,1468.12 231.01,1472.72 232.55,1480.00C234.09,1487.28 236.64,1498.22 238.80,1504.70C240.96,1511.18 243.32,1514.08 245.50,1518.90C247.68,1523.72 249.77,1529.22 251.90,1533.60C254.03,1537.98 254.64,1540.05 258.30,1545.19C261.96,1550.32 268.66,1559.08 273.84,1564.43C279.02,1569.79 284.21,1573.58 289.39,1577.32C294.57,1581.07 299.75,1584.04 304.93,1586.89C310.11,1589.75 315.29,1592.16 320.47,1594.46C325.66,1596.76 330.84,1598.78 336.02,1600.71C341.20,1602.63 346.38,1604.36 351.56,1606.02C356.74,1607.68 361.92,1609.20 367.11,1610.65C372.29,1612.11 377.47,1613.46 382.65,1614.76C387.83,1616.06 393.01,1617.27 398.19,1618.45C403.37,1619.62 408.55,1620.73 413.74,1621.81C418.92,1622.88 424.10,1623.90 429.28,1624.89C434.46,1625.88 439.64,1626.83 444.82,1627.75C450.00,1628.67 455.19,1629.55 460.37,1630.41C465.55,1631.27 470.73,1632.10 475.91,1632.90C481.09,1633.71 486.27,1634.49 491.45,1635.26C496.64,1636.02 501.82,1636.76 507.00,1637.48C512.18,1638.20 517.36,1638.91 522.54,1639.60C527.72,1640.28 532.90,1640.95 538.08,1641.61C543.27,1642.27 548.45,1642.91 553.63,1643.54C558.81,1644.17 563.99,1644.78 569.17,1645.38C574.35,1645.99 579.53,1646.58 584.72,1647.16C589.90,1647.74 595.08,1648.31 600.26,1648.87C605.44,1649.43 610.62,1649.98 615.80,1650.52C620.98,1651.06 626.16,1651.59 631.35,1652.11C636.53,1652.64 641.71,1653.15 646.89,1653.66C652.07,1654.17 657.25,1654.67 662.43,1655.16C667.61,1655.65 672.80,1656.13 677.98,1656.61C683.16,1657.09 688.34,1657.56 693.52,1658.03C698.70,1658.49 703.88,1658.95 709.06,1659.40C714.25,1659.86 719.43,1660.30 724.61,1660.75C729.79,1661.19 734.97,1661.62 740.15,1662.06C745.33,1662.49 750.51,1662.91 755.69,1663.33C760.88,1663.76 766.06,1664.17 771.24,1664.58C776.42,1665.00 781.60,1665.40 786.78,1665.81C791.96,1666.21 797.14,1666.61 802.33,1667.00C807.51,1667.40 812.69,1667.79 817.87,1668.17C823.05,1668.56 828.23,1668.94 833.41,1669.32C838.59,1669.70 843.78,1670.08 848.96,1670.45C854.14,1670.82 861.91,1671.37 864.50,1671.56" fill="none" stroke="#1f77b4" stroke-width="7.1"/>
<line x1="254.25" y1="1348.0" x2="254.25" y2="1795.0" stroke="#1a1a1a" stroke-width="2.1" stroke-dasharray="13.25 6.21" stroke-dashoffset="14.66"/>
</g>
<rect x="221.5" y="1348.0" width="643.0" height="447.0" fill="none" stroke="#3a3a3a" stroke-width="2"/>
<rect x="428.5" y="1361.6" width="421.7" height="168" rx="5.5" ry="5.5" fill="#fff" fill-opacity="0.8" stroke="#d0d0d0" stroke-width="3"/>
<line x1="436.6" y1="1382" x2="498.6" y2="1382" stroke="rgba(0,128,0,0.52)" stroke-width="6.8"/>
<circle cx="467.6" cy="1421.9" r="9.4" fill="#008000"/>
<line x1="436.6" y1="1461.1" x2="498.6" y2="1461.1" stroke="#1f77b4" stroke-width="7.2"/>
<rect x="439.3" y="1492.6" width="56.3" height="18.6" fill="#d2e3ef"/>
<text transform="translate(517.50,1392.50) scale(0.957,1)" font-size="29.5" text-anchor="start">Observed</text>
<text transform="translate(517.50,1431.50) scale(0.957,1)" font-size="29.5" text-anchor="start">Train</text>
<text transform="translate(517.50,1470.60) scale(0.957,1)" font-size="29.5" text-anchor="start">Mean</text>
<text transform="translate(517.50,1510.80) scale(0.957,1)" font-size="29.5" text-anchor="start">Confidence Interval(±1.96<tspan font-style="italic">σ</tspan>)</text>
<text transform="translate(221.50,1835.70) scale(0.93,1)" font-size="39.3" text-anchor="middle">0</text>
<text transform="translate(350.10,1835.70) scale(0.93,1)" font-size="39.3" text-anchor="middle">2000</text>
<text transform="translate(478.70,1835.70) scale(0.93,1)" font-size="39.3" text-anchor="middle">4000</text>
<text transform="translate(607.30,1835.70) scale(0.93,1)" font-size="39.3" text-anchor="middle">6000</text>
<text transform="translate(735.90,1835.70) scale(0.93,1)" font-size="39.3" text-anchor="middle">8000</text>
<text transform="translate(864.50,1835.70) scale(0.93,1)" font-size="39.3" text-anchor="middle">10000</text>
<text transform="translate(206.90,1807.80) scale(0.93,1)" font-size="39.3" text-anchor="end">0.80</text>
<text transform="translate(206.90,1718.40) scale(0.93,1)" font-size="39.3" text-anchor="end">0.85</text>
<text transform="translate(206.90,1629.00) scale(0.93,1)" font-size="39.3" text-anchor="end">0.90</text>
<text transform="translate(206.90,1539.60) scale(0.93,1)" font-size="39.3" text-anchor="end">0.95</text>
<text transform="translate(206.90,1450.20) scale(0.93,1)" font-size="39.3" text-anchor="end">1.00</text>
<text transform="translate(206.90,1360.80) scale(0.93,1)" font-size="39.3" text-anchor="end">1.05</text>
<text transform="translate(543.00,1891.30) scale(0.937,1)" font-size="44.8" text-anchor="middle">Cycle number</text>
<text transform="translate(114.20,1571.50) rotate(-90) scale(0.937,1)" font-size="44.8" text-anchor="middle">Capacitance (F)</text>
<text transform="translate(0.30,1307.70) scale(0.958,1)" font-size="38.2" text-anchor="start">(e) Model 3</text>
<line x1="1084.40" y1="1795.0" x2="1084.40" y2="1781.0" stroke="#8a8a8a" stroke-width="1.7"/>
<line x1="1212.94" y1="1795.0" x2="1212.94" y2="1781.0" stroke="#8a8a8a" stroke-width="1.7"/>
<line x1="1341.48" y1="1795.0" x2="1341.48" y2="1781.0" stroke="#8a8a8a" stroke-width="1.7"/>
<line x1="1470.02" y1="1795.0" x2="1470.02" y2="1781.0" stroke="#8a8a8a" stroke-width="1.7"/>
<line x1="1598.56" y1="1795.0" x2="1598.56" y2="1781.0" stroke="#8a8a8a" stroke-width="1.7"/>
<line x1="1727.10" y1="1795.0" x2="1727.10" y2="1781.0" stroke="#8a8a8a" stroke-width="1.7"/>
<line x1="1085.0" y1="1795.00" x2="1099.0" y2="1795.00" stroke="#3a3a3a" stroke-width="2"/>
<line x1="1085.0" y1="1571.50" x2="1099.0" y2="1571.50" stroke="#3a3a3a" stroke-width="2"/>
<line x1="1085.0" y1="1348.00" x2="1099.0" y2="1348.00" stroke="#3a3a3a" stroke-width="2"/>
<g clip-path="url(#cr2)">
<path d="M1086.50,1556.00C1086.83,1556.97 1087.42,1559.72 1088.50,1561.80C1089.58,1563.88 1090.93,1567.25 1093.00,1568.50C1095.07,1569.75 1098.27,1569.13 1100.90,1569.30C1103.53,1569.47 1106.53,1570.20 1108.80,1569.50C1111.07,1568.80 1113.00,1566.77 1114.50,1565.10C1116.00,1563.43 1116.48,1561.67 1117.80,1559.50C1119.12,1557.33 1120.17,1555.02 1122.40,1552.09C1124.63,1549.16 1128.25,1545.05 1131.17,1541.94C1134.09,1538.84 1137.01,1536.09 1139.94,1533.47C1142.86,1530.85 1145.78,1528.49 1148.70,1526.25C1151.63,1524.00 1154.55,1521.95 1157.47,1520.00C1160.40,1518.04 1163.32,1516.24 1166.24,1514.52C1169.16,1512.79 1172.09,1511.19 1175.01,1509.66C1177.93,1508.13 1180.85,1506.70 1183.78,1505.33C1186.70,1503.95 1189.62,1502.66 1192.54,1501.43C1195.47,1500.19 1198.39,1499.02 1201.31,1497.90C1204.24,1496.78 1207.16,1495.72 1210.08,1494.70C1213.00,1493.68 1215.93,1492.71 1218.85,1491.78C1221.77,1490.85 1224.69,1489.97 1227.62,1489.11C1230.54,1488.26 1233.46,1487.45 1236.39,1486.66C1239.31,1485.88 1242.23,1485.13 1245.15,1484.41C1248.08,1483.69 1251.00,1483.00 1253.92,1482.33C1256.84,1481.66 1259.77,1481.03 1262.69,1480.41C1265.61,1479.79 1268.54,1479.20 1271.46,1478.63C1274.38,1478.05 1277.30,1477.50 1280.23,1476.97C1283.15,1476.44 1286.07,1475.92 1288.99,1475.42C1291.92,1474.92 1294.84,1474.44 1297.76,1473.98C1300.69,1473.51 1303.61,1473.06 1306.53,1472.62C1309.45,1472.19 1312.38,1471.76 1315.30,1471.35C1318.22,1470.94 1321.14,1470.55 1324.07,1470.16C1326.99,1469.77 1329.91,1469.40 1332.83,1469.03C1335.76,1468.67 1338.68,1468.32 1341.60,1467.97C1344.53,1467.63 1347.45,1467.29 1350.37,1466.97C1353.29,1466.64 1356.22,1466.33 1359.14,1466.02C1362.06,1465.71 1364.98,1465.41 1367.91,1465.12C1370.83,1464.83 1373.75,1464.54 1376.68,1464.27C1379.60,1463.99 1382.52,1463.72 1385.44,1463.46C1388.37,1463.19 1391.29,1462.94 1394.21,1462.69C1397.13,1462.44 1400.06,1462.19 1402.98,1461.96C1405.90,1461.72 1408.83,1461.49 1411.75,1461.26C1414.67,1461.03 1417.59,1460.81 1420.52,1460.60C1423.44,1460.38 1426.36,1460.17 1429.28,1459.96C1432.21,1459.76 1435.13,1459.55 1438.05,1459.36C1440.97,1459.16 1443.90,1458.97 1446.82,1458.78C1449.74,1458.59 1452.67,1458.41 1455.59,1458.23C1458.51,1458.05 1461.43,1457.87 1464.36,1457.70C1467.28,1457.53 1470.20,1457.36 1473.12,1457.20C1476.05,1457.03 1478.97,1456.87 1481.89,1456.71C1484.82,1456.55 1487.74,1456.40 1490.66,1456.25C1493.58,1456.10 1496.51,1455.95 1499.43,1455.81C1502.35,1455.66 1505.27,1455.52 1508.20,1455.38C1511.12,1455.24 1514.04,1455.10 1516.97,1454.97C1519.89,1454.84 1522.81,1454.71 1525.73,1454.58C1528.66,1454.45 1531.58,1454.33 1534.50,1454.20C1537.42,1454.08 1540.35,1453.96 1543.27,1453.84C1546.19,1453.72 1549.11,1453.61 1552.04,1453.50C1554.96,1453.38 1557.88,1453.27 1560.81,1453.16C1563.73,1453.05 1566.65,1452.95 1569.57,1452.84C1572.50,1452.74 1575.42,1452.64 1578.34,1452.54C1581.26,1452.43 1584.19,1452.34 1587.11,1452.24C1590.03,1452.14 1592.96,1452.05 1595.88,1451.95C1598.80,1451.86 1601.72,1451.77 1604.65,1451.68C1607.57,1451.59 1610.49,1451.50 1613.41,1451.42C1616.34,1451.33 1619.26,1451.25 1622.18,1451.16C1625.11,1451.08 1628.03,1451.00 1630.95,1450.92C1633.87,1450.84 1636.80,1450.76 1639.72,1450.69C1642.64,1450.61 1645.56,1450.53 1648.49,1450.46C1651.41,1450.39 1654.33,1450.31 1657.26,1450.24C1660.18,1450.17 1663.10,1450.10 1666.02,1450.03C1668.95,1449.96 1671.87,1449.90 1674.79,1449.83C1677.71,1449.76 1680.64,1449.70 1683.56,1449.64C1686.48,1449.57 1689.40,1449.51 1692.33,1449.45C1695.25,1449.39 1698.17,1449.33 1701.10,1449.27C1704.02,1449.21 1706.94,1449.15 1709.86,1449.10C1712.79,1449.04 1715.71,1448.98 1718.63,1448.93C1721.55,1448.87 1725.94,1448.80 1727.40,1448.77" fill="none" stroke="#000" stroke-width="10.8" stroke-linejoin="round" stroke-linecap="round"/>
<line x1="1117" y1="1348.0" x2="1117" y2="1795.0" stroke="#3a3a3a" stroke-width="2" stroke-dasharray="13.25 6.21" stroke-dashoffset="14.66"/>
</g>
<rect x="1085.0" y="1348.0" width="642.4000000000001" height="447.0" fill="none" stroke="#3a3a3a" stroke-width="2"/>
<text transform="translate(1085.00,1835.70) scale(0.93,1)" font-size="39.3" text-anchor="middle">0</text>
<text transform="translate(1213.48,1835.70) scale(0.93,1)" font-size="39.3" text-anchor="middle">2000</text>
<text transform="translate(1341.96,1835.70) scale(0.93,1)" font-size="39.3" text-anchor="middle">4000</text>
<text transform="translate(1470.44,1835.70) scale(0.93,1)" font-size="39.3" text-anchor="middle">6000</text>
<text transform="translate(1598.92,1835.70) scale(0.93,1)" font-size="39.3" text-anchor="middle">8000</text>
<text transform="translate(1727.40,1835.70) scale(0.93,1)" font-size="39.3" text-anchor="middle">10000</text>
<text transform="translate(1069.60,1807.80) scale(0.93,1)" font-size="39.3" text-anchor="end">−0.05</text>
<text transform="translate(1069.60,1584.30) scale(0.93,1)" font-size="39.3" text-anchor="end">0.00</text>
<text transform="translate(1069.60,1360.80) scale(0.93,1)" font-size="39.3" text-anchor="end">0.05</text>
<text transform="translate(1406.20,1891.30) scale(0.937,1)" font-size="44.8" text-anchor="middle">Cycle number</text>
<text transform="translate(956.80,1571.50) rotate(-90) scale(0.945,1)" font-size="44.8" text-anchor="middle">Error (F)</text>
<text transform="translate(882.20,1307.70) scale(0.958,1)" font-size="38.2" text-anchor="start">(f) Model 3</text>
</svg>
</body></html>
